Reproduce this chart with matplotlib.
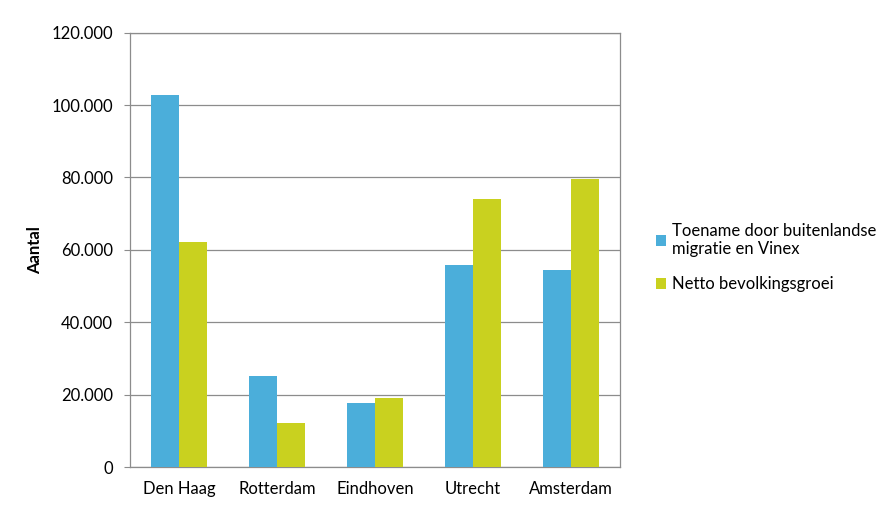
import matplotlib
matplotlib.use("Agg")
import matplotlib.pyplot as plt
import numpy as np
from matplotlib.ticker import FuncFormatter, MultipleLocator

categories = ["Den Haag", "Rotterdam", "Eindhoven", "Utrecht", "Amsterdam"]
series_names = ["Toename door buitenlandse\nmigratie en Vinex", "Netto bevolkingsgroei"]
toename = [102700, 25100, 17600, 55800, 54400]
netto = [62100, 12100, 19000, 74000, 79600]
colors = ["#4BAEDA", "#C9D11F"]

plt.rcParams['font.family'] = ['Lato', 'DejaVu Sans']

fig = plt.figure(figsize=(8.96, 5.2), dpi=100)
ax = fig.add_axes([0.1454, 0.1019, 0.6916 - 0.1454, 0.9371 - 0.1019])

x = np.arange(len(categories))
w = 0.286
ax.bar(x - w / 2, toename, width=w, color=colors[0], label=series_names[0], zorder=3)
ax.bar(x + w / 2, netto, width=w, color=colors[1], label=series_names[1], zorder=3)

ax.set_xlim(-0.5, len(categories) - 0.5)
ax.set_ylim(0, 120000)
ax.yaxis.set_major_locator(MultipleLocator(20000))
ax.yaxis.set_major_formatter(FuncFormatter(lambda v, p: f"{int(v):,}".replace(",", ".")))
ax.set_xticks(x)
ax.set_xticklabels(categories)

ax.grid(axis='y', color='#8c8c8c', linewidth=0.9, zorder=0)
for s in ax.spines.values():
    s.set_color('#8c8c8c')
    s.set_linewidth(0.9)

ax.tick_params(axis='y', length=4.5, color='#8c8c8c', pad=8, labelsize=12, labelcolor='#000000')
ax.tick_params(axis='x', length=0, pad=10, labelsize=12, labelcolor='#000000')

fig.text(35 / 896, 1 - 250 / 520, "Aantal", rotation=90, fontsize=12, fontweight='bold',
         ha='center', va='center')

leg = fig.legend(loc='center left', bbox_to_anchor=(0.715, 0.505), frameon=False,
                 fontsize=12, handlelength=0.6, handleheight=0.6, handletextpad=0.4,
                 labelspacing=1.15)

fig.savefig("out.png", dpi=100)
